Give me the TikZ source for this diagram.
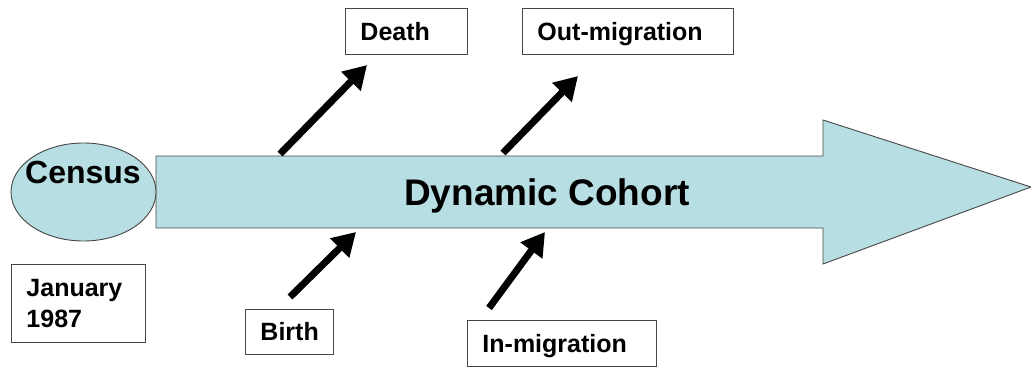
\documentclass[tikz,border=0pt]{standalone}
\usepackage{fontspec}
\setmainfont{Liberation Sans}
\usetikzlibrary{arrows.meta}
\definecolor{cohortfill}{RGB}{183,222,226}
\definecolor{edgegray}{RGB}{70,70,70}
\tikzset{
  labelbox/.style={draw=edgegray, line width=0.9pt, fill=white, anchor=north west,
    font=\bfseries\fontsize{25}{31}\selectfont, inner xsep=15pt, inner ysep=0pt,
    align=left},
  onebox/.style={labelbox, text height=18pt, text depth=0pt},
  flowarrow/.style={line width=7pt, black, -{Triangle[length=23pt,width=26pt]}},
}
\begin{document}
\begin{tikzpicture}[x=1pt,y=-1pt]
\useasboundingbox (0,0) rectangle (1031,367);
% big arrow
\draw[fill=cohortfill, draw=edgegray, line width=0.9pt]
  (156,156) -- (823,156) -- (823,120) -- (1031,187) -- (823,264) -- (823,228) -- (156,228) -- cycle;
\node[anchor=base, font=\bfseries\fontsize{37}{42}\selectfont] (cohort) at (547,205) {Dynamic Cohort};
% census ellipse
\draw[fill=cohortfill, draw=edgegray, line width=0.9pt] (83.5,192) ellipse [x radius=72.5, y radius=49];
\node[anchor=base, font=\bfseries\fontsize{32}{36}\selectfont] (census) at (83,183) {Census};
% boxes
\node[labelbox, text width=104pt, minimum height=78pt] (jan) at (11,264) {January\\1987};
\node[onebox, text width=92pt, minimum height=46pt] (death) at (345,8) {Death};
\node[onebox, text width=181pt, minimum height=46pt] (out) at (522,8) {Out-migration};
\node[onebox, text width=58pt, minimum height=45pt] (birth) at (245,309) {Birth};
\node[onebox, text width=159pt, minimum height=46pt] (in) at (467,320) {In-migration};
% arrow ends
\coordinate (d0) at (280,154);
\coordinate (d1) at (367,65);
\coordinate (o0) at (503,153);
\coordinate (o1) at (578,76);
\coordinate (b0) at (290,297);
\coordinate (b1) at (356,232);
\coordinate (i0) at (489,308);
\coordinate (i1) at (545,232);
\draw[flowarrow] (d0) -- (d1);
\draw[flowarrow] (o0) -- (o1);
\draw[flowarrow] (b0) -- (b1);
\draw[flowarrow] (i0) -- (i1);
\end{tikzpicture}
\end{document}
